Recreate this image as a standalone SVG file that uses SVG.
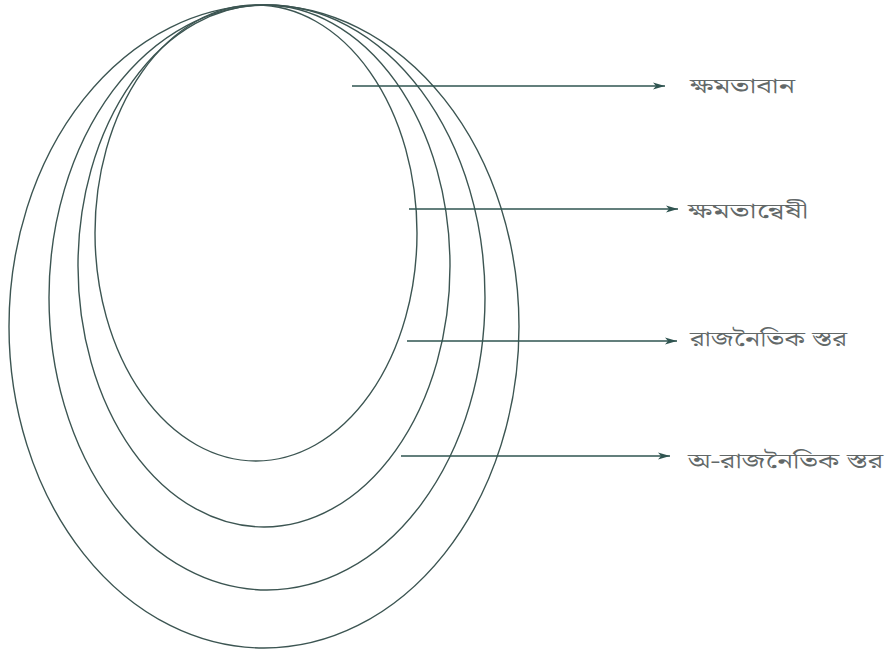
<svg xmlns="http://www.w3.org/2000/svg" width="886" height="650" viewBox="0 0 886 650">
<style>
.ring{fill:none;stroke:#3c5552;stroke-width:1.4}
.arr{fill:none;stroke:#2f5450;stroke-width:1.4}
.lbl{font-family:"Noto Serif Bengali","Noto Sans Bengali","Lohit Bengali","Noto Sans",sans-serif;font-size:21px;font-weight:normal;fill:#626868}
</style>
<defs>
<marker id="ah" viewBox="0 0 12 8" refX="12" refY="4" markerWidth="12" markerHeight="8" markerUnits="userSpaceOnUse" orient="auto">
<path d="M0,0.5 L12,4 L0,7.5 L3,4 Z" fill="#2f5450"/>
</marker>
</defs>
<g id="ring4"><ellipse class="ring" cx="264" cy="326.5" rx="255" ry="321.5"/></g>
<g id="ring3"><ellipse class="ring" cx="267" cy="297.5" rx="218" ry="292.5"/></g>
<g id="ring2"><ellipse class="ring" cx="264" cy="266" rx="186" ry="261"/></g>
<g id="ring1"><ellipse class="ring" cx="256" cy="233" rx="161" ry="228"/></g>
<g id="connectors">
<line class="arr" x1="352" y1="86" x2="665" y2="86" marker-end="url(#ah)"/>
<line class="arr" x1="409" y1="209" x2="678" y2="209" marker-end="url(#ah)"/>
<line class="arr" x1="407" y1="341" x2="677" y2="341" marker-end="url(#ah)"/>
<line class="arr" x1="401" y1="456" x2="670" y2="456" marker-end="url(#ah)"/>
</g>
<g id="label1"><text class="lbl" x="690" y="93" textLength="105" lengthAdjust="spacingAndGlyphs">ক্ষমতাবান</text></g>
<g id="label2"><text class="lbl" x="688" y="218" textLength="120" lengthAdjust="spacingAndGlyphs">ক্ষমতান্বেষী</text></g>
<g id="label3"><text class="lbl" x="690" y="346" textLength="157" lengthAdjust="spacingAndGlyphs">রাজনৈতিক স্তর</text></g>
<g id="label4"><text class="lbl" x="688" y="468" textLength="195" lengthAdjust="spacingAndGlyphs">অ-রাজনৈতিক স্তর</text></g>
</svg>
